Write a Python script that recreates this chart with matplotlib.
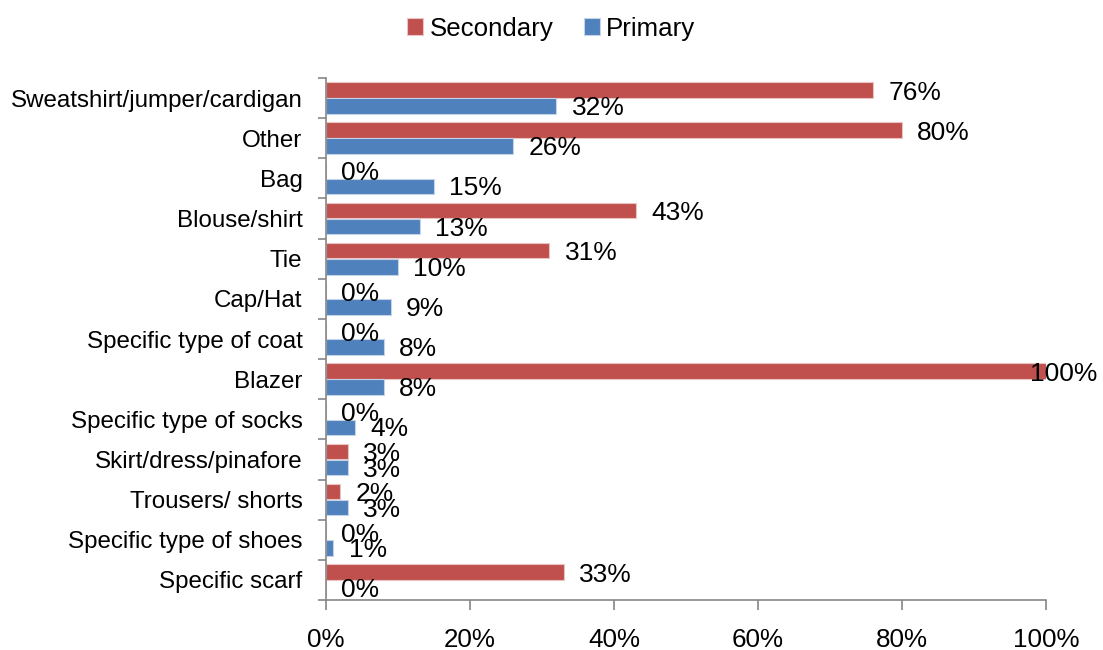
import numpy as np
import matplotlib.pyplot as plt
from matplotlib.ticker import FixedLocator, PercentFormatter

plt.rcParams["font.family"] = ["Liberation Sans", "DejaVu Sans"]

categories = [
    "Sweatshirt/jumper/cardigan",
    "Other",
    "Bag",
    "Blouse/shirt",
    "Tie",
    "Cap/Hat",
    "Specific type of coat",
    "Blazer",
    "Specific type of socks",
    "Skirt/dress/pinafore",
    "Trousers/ shorts",
    "Specific type of shoes",
    "Specific scarf",
]
secondary = [76, 80, 0, 43, 31, 0, 0, 100, 0, 3, 2, 0, 33]
primary = [32, 26, 15, 13, 10, 9, 8, 8, 4, 3, 3, 1, 0]

red = "#C0504D"
blue = "#4F81BD"

fig = plt.figure(figsize=(11.03, 6.5), dpi=100)
ax = fig.add_axes([0.2956, 0.0769, 0.6527, 0.8031])

y = np.arange(len(categories))
h = 0.39

ax.barh(y - 0.2, secondary, height=h, color=red, edgecolor="#e9c4c3",
        linewidth=0.8, label="Secondary")
ax.barh(y + 0.2, primary, height=h, color=blue, edgecolor="#c4d3e8",
        linewidth=0.8, label="Primary")


def put_label(val, ypos):
    # labels that would run off the chart get pulled back, like Excel does
    if val >= 100:
        ax.annotate(f"{val}%", (val, ypos), xytext=(37, 0),
                    textcoords="offset points", ha="right", va="center",
                    fontsize=19, annotation_clip=False)
    else:
        ax.annotate(f"{val}%", (val, ypos), xytext=(11, 0),
                    textcoords="offset points", ha="left", va="center",
                    fontsize=19)


for i in range(len(categories)):
    put_label(secondary[i], y[i] - 0.13)
    put_label(primary[i], y[i] + 0.25)

ax.set_xlim(0, 100)
ax.set_ylim(len(categories) - 0.5, -0.5)

ax.set_yticks(y)
ax.set_yticklabels(categories, fontsize=17.4)
ax.yaxis.set_minor_locator(FixedLocator(np.arange(-0.5, len(categories), 1)))
ax.tick_params(axis="y", which="major", length=0, pad=17)
ax.tick_params(axis="y", which="minor", length=6, color="#868686", width=1.2)

ax.set_xticks([0, 20, 40, 60, 80, 100])
ax.xaxis.set_major_formatter(PercentFormatter(decimals=0))
ax.tick_params(axis="x", length=7, color="#868686", width=1.2, pad=13,
               labelsize=18.7)

for s in ["top", "right"]:
    ax.spines[s].set_visible(False)
for s in ["left", "bottom"]:
    ax.spines[s].set_color("#868686")
    ax.spines[s].set_linewidth(1.2)

fig.legend(loc="upper center", bbox_to_anchor=(0.5, 1.01), ncol=2,
           frameon=False, fontsize=18.6, handlelength=0.6, handleheight=0.6,
           handletextpad=0.25, columnspacing=1.2)

plt.savefig("out.png", dpi=100)
plt.close()
